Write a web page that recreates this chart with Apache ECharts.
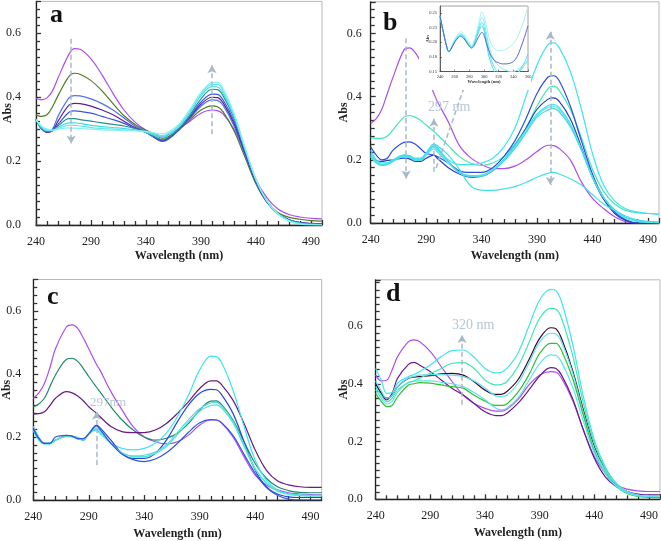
<!DOCTYPE html>
<html><head><meta charset="utf-8">
<script src="https://cdn.jsdelivr.net/npm/echarts/dist/echarts.min.js"></script>
<style>html,body{margin:0;padding:0;background:#fff}#c{width:661px;height:541px}</style>
</head><body><div id="c"></div>
<script>
// ---------- data ----------
const WL  = [240,245,250,255,260,270,275,280,290,300,310,320,330,340,350,355,360,370,380,390,400,405,410,420,430,440,450,460,470,480,490,500];
const WL2 = [240,245,250,255,260,270,275,280,285,290,297,300,310,320,330,340,350,360,370,380,390,400,405,410,420,430,440,450,460,470,480,490,500];
const WLin = [240,245,250,252,255,260,265,268,272,276,280,283,286,290,294,297,300,303,306,310,315,320,325,330,335,340,345,350,355,360];

// panel a
const a1 = [.396,.392,.398,.42,.46,.535,.552,.55,.52,.47,.412,.36,.322,.297,.282,.278,.282,.302,.325,.35,.36,.358,.348,.30,.225,.142,.085,.05,.033,.025,.021,.019];
const a2 = [.344,.34,.345,.37,.405,.465,.475,.472,.452,.42,.38,.342,.315,.296,.278,.272,.276,.298,.33,.36,.373,.37,.355,.295,.212,.128,.07,.038,.024,.018,.014,.012];
const a3 = [.33,.305,.29,.30,.34,.398,.405,.404,.395,.38,.36,.335,.31,.292,.272,.266,.272,.298,.335,.372,.392,.39,.375,.31,.22,.132,.072,.035,.015,.007,.004,.003];
const a4 = [.33,.303,.29,.295,.325,.375,.381,.38,.372,.36,.345,.325,.305,.29,.27,.263,.27,.298,.338,.378,.40,.399,.383,.318,.225,.135,.073,.036,.016,.008,.005,.004];
const a5 = [.33,.30,.292,.295,.315,.353,.357,.356,.35,.34,.33,.318,.302,.29,.268,.262,.268,.298,.34,.385,.41,.409,.392,.325,.23,.137,.074,.036,.016,.007,.004,.003];
const a6 = [.33,.302,.293,.295,.31,.333,.333,.33,.325,.32,.315,.31,.302,.29,.272,.268,.273,.302,.345,.395,.425,.424,.405,.335,.235,.14,.075,.037,.016,.007,.004,.003];
const a7 = [.33,.305,.295,.295,.305,.32,.32,.318,.312,.308,.305,.302,.298,.29,.278,.274,.28,.308,.352,.405,.433,.432,.412,.34,.238,.14,.074,.035,.014,.005,.002,.001];
const a8 = [.33,.308,.298,.296,.302,.312,.312,.31,.305,.302,.30,.298,.296,.292,.282,.279,.285,.312,.357,.41,.44,.44,.42,.345,.24,.142,.075,.035,.013,.004,.001,0];
const a9 = [.33,.31,.30,.297,.30,.304,.303,.302,.30,.298,.297,.296,.295,.293,.287,.285,.29,.316,.362,.415,.446,.447,.428,.35,.243,.143,.075,.034,.012,.003,0,0];

// panel b
const b1 = [.315,.33,.36,.41,.46,.548,.554,.54,.51,.47,.41,.385,.32,.245,.207,.185,.172,.172,.18,.2,.226,.246,.245,.236,.2,.13,.078,.046,.02,.004,0,0,0];
const b2 = [.27,.268,.268,.275,.295,.335,.34,.335,.325,.31,.29,.28,.245,.21,.19,.182,.19,.21,.25,.3,.37,.425,.433,.42,.36,.27,.17,.1,.06,.04,.033,.03,.028];
const b3 = [.24,.215,.2,.205,.23,.255,.257,.25,.235,.22,.215,.21,.19,.165,.16,.16,.175,.21,.26,.33,.41,.462,.466,.45,.37,.26,.155,.08,.035,.01,0,0,0];
const b4 = [.21,.198,.195,.198,.2,.205,.203,.195,.195,.205,.215,.205,.175,.155,.145,.148,.165,.2,.245,.3,.36,.392,.396,.385,.33,.24,.145,.075,.03,.008,0,0,0];
const b5 = [.22,.195,.185,.187,.195,.21,.208,.2,.198,.215,.235,.225,.19,.16,.15,.152,.17,.2,.245,.295,.345,.372,.375,.365,.315,.235,.145,.08,.04,.015,.005,.002,0];
const b6 = [.215,.192,.183,.185,.195,.212,.21,.2,.2,.218,.24,.23,.19,.158,.148,.15,.168,.198,.24,.29,.34,.366,.368,.36,.31,.232,.145,.08,.04,.016,.006,.003,.001];
const b7 = [.21,.19,.182,.185,.197,.215,.213,.203,.203,.22,.245,.235,.195,.16,.148,.148,.165,.195,.235,.285,.335,.358,.362,.352,.305,.23,.145,.082,.042,.018,.008,.004,.002];
const b8 = [.21,.19,.185,.188,.2,.215,.213,.205,.205,.22,.25,.24,.2,.185,.185,.19,.205,.24,.3,.4,.5,.565,.57,.555,.48,.36,.22,.12,.07,.045,.035,.03,.028];
const b9 = [.23,.2,.19,.19,.2,.21,.208,.2,.2,.22,.25,.245,.215,.17,.118,.104,.103,.108,.115,.128,.145,.158,.16,.155,.14,.12,.09,.06,.04,.022,.01,.005,.003];

// inset of b
const inBlue = [.245,.215,.188,.184,.188,.2,.208,.21,.207,.2,.193,.19,.193,.203,.212,.217,.212,.2,.188,.176,.168,.165,.163,.163,.164,.167,.175,.19,.208,.228];
const inTop  = [.245,.215,.188,.184,.19,.205,.215,.218,.215,.207,.198,.195,.2,.218,.24,.252,.245,.23,.212,.196,.188,.186,.186,.188,.192,.198,.207,.222,.24,.262];
const inC2   = [.245,.215,.188,.184,.19,.203,.212,.215,.212,.204,.196,.193,.198,.213,.232,.243,.236,.218,.198,.18,.167,.16,.155,.152,.15,.15,.152,.157,.163,.17];
const inC3   = [.245,.215,.188,.184,.189,.202,.21,.213,.21,.202,.195,.192,.196,.21,.226,.234,.227,.208,.19,.17,.155,.147,.142,.14,.14,.142,.146,.152,.16,.168];
const inC4   = [.245,.215,.188,.184,.189,.201,.209,.212,.209,.201,.194,.191,.195,.208,.222,.228,.22,.2,.18,.162,.148,.14,.136,.135,.137,.141,.146,.155,.165,.18];
const insetYLabels = ['0.15','0.18','0.20','0.23','0.25'];

// panel c
const c1 = [.323,.34,.37,.42,.48,.55,.556,.545,.515,.48,.43,.413,.344,.286,.233,.2,.185,.178,.185,.206,.238,.254,.254,.243,.2,.137,.079,.048,.032,.023,.019,.017,.016];
const c2 = [.296,.305,.323,.36,.397,.447,.45,.44,.418,.392,.358,.344,.296,.254,.222,.2,.19,.196,.212,.243,.286,.314,.315,.302,.254,.185,.116,.069,.042,.03,.024,.023,.023];
const c3 = [.273,.274,.28,.3,.323,.344,.34,.33,.315,.296,.275,.265,.233,.217,.214,.214,.222,.243,.275,.312,.354,.378,.378,.365,.317,.243,.159,.095,.061,.048,.042,.04,.04];
const c4 = [.233,.2,.18,.18,.19,.204,.203,.199,.19,.212,.222,.212,.18,.164,.159,.164,.18,.212,.265,.333,.413,.457,.455,.434,.349,.233,.127,.063,.032,.019,.015,.013,.013];
const c5 = [.228,.195,.18,.18,.19,.203,.202,.195,.19,.21,.237,.23,.19,.148,.132,.132,.148,.19,.249,.302,.339,.351,.35,.333,.275,.185,.095,.042,.019,.01,.008,.008,.008];
const c6 = [.222,.192,.178,.178,.19,.203,.202,.195,.19,.21,.228,.22,.18,.15,.14,.142,.152,.175,.215,.255,.29,.308,.31,.298,.25,.175,.1,.055,.03,.02,.016,.015,.015];
const c7 = [.22,.19,.178,.178,.19,.202,.2,.194,.19,.208,.225,.218,.178,.148,.138,.138,.148,.17,.208,.248,.282,.3,.302,.292,.245,.17,.098,.053,.028,.018,.014,.013,.013];
const c8 = [.225,.195,.18,.18,.2,.205,.203,.195,.195,.21,.235,.225,.18,.145,.128,.122,.13,.15,.18,.215,.245,.255,.254,.245,.205,.145,.085,.04,.015,.003,0,0,0];

// panel d
const d1 = [.43,.41,.412,.448,.494,.546,.552,.546,.511,.459,.407,.361,.332,.315,.305,.305,.312,.345,.395,.43,.442,.44,.419,.344,.24,.148,.09,.05,.035,.029,.027,.027];
const d2 = [.40,.367,.344,.367,.419,.467,.474,.465,.442,.413,.384,.361,.332,.303,.29,.29,.298,.332,.378,.427,.456,.453,.43,.35,.24,.142,.078,.044,.027,.018,.015,.015];
const d3 = [.40,.37,.35,.36,.39,.419,.423,.425,.428,.434,.436,.43,.407,.378,.363,.363,.373,.413,.482,.557,.594,.59,.557,.448,.309,.182,.102,.05,.027,.015,.012,.009];
const d4 = [.453,.413,.367,.37,.402,.425,.432,.442,.465,.494,.515,.517,.492,.453,.438,.44,.453,.505,.598,.69,.727,.722,.684,.54,.355,.205,.113,.055,.027,.015,.012,.012];
const d5 = [.39,.36,.338,.35,.378,.404,.41,.419,.436,.453,.471,.473,.453,.413,.396,.398,.407,.459,.54,.627,.661,.658,.627,.5,.332,.194,.107,.055,.024,.013,.01,.008];
const d6 = [.41,.375,.35,.36,.39,.42,.425,.43,.432,.432,.43,.425,.41,.385,.358,.356,.36,.4,.47,.545,.575,.572,.545,.44,.3,.175,.1,.05,.025,.015,.012,.01];
const d7 = [.367,.34,.321,.325,.355,.396,.4,.404,.402,.396,.39,.385,.36,.34,.325,.325,.33,.37,.43,.505,.54,.54,.515,.42,.29,.165,.09,.045,.02,.01,.007,.006];
const d8 = [.38,.35,.33,.34,.37,.405,.408,.41,.41,.405,.4,.39,.37,.345,.315,.31,.315,.35,.41,.47,.5,.498,.475,.39,.27,.16,.09,.045,.022,.012,.01,.009];

// arrows: [x1, y1, x2, y2, startSymbol, endSymbol]
const arrowsA = [[272,0.583,272,0.255,'none','arrow'],[400,0.50,400,0.281,'arrow','none']];
const arrowsB = [[272,0.585,272,0.141,'none','arrow'],[402,0.605,402,0.12,'arrow','arrow'],[297,0.162,297,0.33,'none','arrow'],[299,0.174,335,0.538,'none','arrow']];
const arrowsC = [[297,0.111,297,0.28,'none','arrow']];
const arrowsD = [[319,0.327,319,0.569,'none','arrow']];
const arrowsIn = [[297,0.15,297,0.262,'none','none']];

// ---------- chart ----------
const FONT = 'Liberation Serif';
const ARROW = '#a9b8c8';
const PURPLE = '#ad4ef2';
const TICK = '#333';
const panels = [
  {grid:{left:36,top:1.4,width:286,height:223.6}, ymax:0.7, labMargin:15, nameGapY:22, nameGapX:25, wl:WL,
   curves:[[a1,PURPLE],[a2,'#4e7d23'],[a3,'#4f72ea'],[a4,'#5a1f9e'],[a5,'#3b56dc'],[a6,'#2a8f8a'],[a7,'#3fdde6'],[a8,'#5fe8ee'],[a9,'#86f0f2']], arrows:arrowsA},
  {grid:{left:370.7,top:1.8,width:288.3,height:221.2}, ymax:0.7, labMargin:9, nameGapY:21, nameGapX:27, wl:WL2,
   curves:[[b1,PURPLE],[b2,'#3ee8b4'],[b3,'#2f4fe0'],[b4,'#2a40c0'],[b5,'#3fe0e8'],[b6,'#5ce8ee'],[b7,'#46d8e2'],[b8,'#40e4ec'],[b9,'#44e0ea']], arrows:arrowsB},
  {grid:{left:33.3,top:279.5,width:288.4,height:220.5}, ymax:0.7, labMargin:12, nameGapY:20, nameGapX:28, wl:WL2,
   curves:[[c1,PURPLE],[c2,'#1f8a68'],[c3,'#6a1a82'],[c4,'#40e4ec'],[c5,'#2346e0'],[c6,'#5ad8e8'],[c7,'#50e8c8'],[c8,'#3654d8']], arrows:arrowsC},
  {grid:{left:375.7,top:279.8,width:284.3,height:219.5}, ymax:0.76, labMargin:13, nameGapY:26, nameGapX:28, wl:WL,
   curves:[[d1,PURPLE],[d2,'#6a1a8a'],[d3,'#3a0a30'],[d4,'#40e4ec'],[d5,'#40e8b0'],[d6,'#5ee0ec'],[d7,'#30c030'],[d8,'#60e0f0']], arrows:arrowsD}
];

const grids = [], xAxes = [], yAxes = [], series = [];
function arrowSeries(idx, list, z, width) {
  return {type:'line', xAxisIndex:idx, yAxisIndex:idx, data:[], z:z, silent:true, animation:false,
    markLine:{silent:true, animation:false, symbolSize:[7,8], label:{show:false},
      lineStyle:{type:[5,3], color:ARROW, width:width},
      data:list.map(r => [{coord:[r[0],r[1]], symbol:r[4]},{coord:[r[2],r[3]], symbol:r[5]}])}};
}
panels.forEach((p, i) => {
  grids.push(Object.assign({show:true, borderColor:'#b8b8b8', borderWidth:1}, p.grid));
  xAxes.push({type:'value', gridIndex:i, min:240, max:500, interval:50,
    axisLine:{show:true, lineStyle:{color:'#222', width:1.3}},
    axisTick:{show:true, inside:true, length:5, lineStyle:{color:TICK, width:1.3}},
    minorTick:{show:true, splitNumber:5, length:4, lineStyle:{color:TICK, width:1.3}},
    splitLine:{show:false},
    axisLabel:{margin:11, fontFamily:FONT, fontSize:12, color:'#222', showMaxLabel:false},
    name:'Wavelength (nm)', nameLocation:'middle', nameGap:p.nameGapX, nameMoveOverlap:false,
    nameTextStyle:{fontFamily:FONT, fontWeight:'bold', fontSize:12, color:'#222'}});
  yAxes.push({type:'value', gridIndex:i, min:0, max:p.ymax, interval:0.2,
    axisLine:{show:true, lineStyle:{color:'#222', width:1.3}},
    axisTick:{show:true, inside:true, length:5, lineStyle:{color:TICK, width:1.3}},
    minorTick:{show:true, splitNumber:8, length:4, lineStyle:{color:TICK, width:1.3}},
    splitLine:{show:false},
    axisLabel:{margin:p.labMargin, fontFamily:FONT, fontSize:12, color:'#222', showMaxLabel:false, formatter:v => v.toFixed(1)},
    name:'Abs', nameLocation:'middle', nameGap:p.nameGapY, nameRotate:90, nameMoveOverlap:false,
    nameTextStyle:{fontFamily:FONT, fontWeight:'bold', fontSize:12, color:'#222'}});
  p.curves.forEach(([vals, col]) => {
    series.push({type:'line', xAxisIndex:i, yAxisIndex:i, data:p.wl.map((x,j)=>[x, vals[j]]),
      showSymbol:false, smooth:0.35, animation:false, silent:true, z:2,
      lineStyle:{width:1.2, color:col}, itemStyle:{color:col}});
  });
});

// inset (index 4)
grids.push({show:true, left:440, top:6, width:88, height:65.5, borderColor:'#888', borderWidth:0.8, backgroundColor:'#fff', z:55});
xAxes.push({type:'value', gridIndex:4, min:240, max:360, interval:20, z:60,
  axisLine:{show:true, lineStyle:{color:'#444', width:0.8}},
  axisTick:{show:true, inside:true, length:2, lineStyle:{color:'#444', width:0.6}},
  splitLine:{show:false},
  axisLabel:{margin:3, fontFamily:FONT, fontSize:4.5, color:'#333'},
  name:'Wavelength (nm)', nameLocation:'middle', nameGap:8, nameMoveOverlap:false,
  nameTextStyle:{fontFamily:FONT, fontWeight:'bold', fontSize:4.5, color:'#333'}});
yAxes.push({type:'value', gridIndex:4, min:0.15, max:0.262, interval:0.025, z:60,
  axisLine:{show:true, lineStyle:{color:'#444', width:0.8}},
  axisTick:{show:true, inside:true, length:2, lineStyle:{color:'#444', width:0.6}},
  splitLine:{show:false},
  axisLabel:{margin:3, fontFamily:FONT, fontSize:4.5, color:'#333', showMaxLabel:false,
    formatter:v => insetYLabels[Math.round((v-0.15)/0.025)] || ''},
  name:'Abs', nameLocation:'middle', nameGap:10, nameRotate:90, nameMoveOverlap:false,
  nameTextStyle:{fontFamily:FONT, fontWeight:'bold', fontSize:4.5, color:'#333'}});
[[inTop,'#a8f2f4'],[inC2,'#7eecf0'],[inC3,'#5ee4ec'],[inC4,'#48dce8'],[inBlue,'#5a66d8']].forEach(([vals,col]) => {
  series.push({type:'line', xAxisIndex:4, yAxisIndex:4, data:WLin.map((x,j)=>[x, vals[j]]),
    showSymbol:false, smooth:0.35, animation:false, silent:true, z:70,
    lineStyle:{width:1, color:col}, itemStyle:{color:col}});
});
series.push({type:'line', xAxisIndex:4, yAxisIndex:4, data:[], z:72, silent:true, animation:false,
  markLine:{silent:true, animation:false, symbol:['none','none'], label:{show:false},
    lineStyle:{type:[1.5,1.5], color:'#777', width:0.8},
    data:arrowsIn.map(r => [{coord:[r[0],r[1]]},{coord:[r[2],r[3]]}])}});

panels.forEach((p,i) => series.push(arrowSeries(i, p.arrows, 80, 1.5)));

const letter = (t, x, y) => ({type:'text', left:x, top:y, z:90, silent:true,
  style:{text:t, font:'bold 26px "Liberation Serif"', fill:'#111'}});
const note = (t, x, y, size) => ({type:'text', left:x, top:y, z:90, silent:true,
  style:{text:t, font:size+'px "Liberation Serif"', fill:'#b6c6d6'}});

const option = {
  animation:false, backgroundColor:'#fff',
  grid:grids, xAxis:xAxes, yAxis:yAxes, series:series,
  graphic:[
    {type:'rect', z:50, silent:true, shape:{x:419, y:3, width:112, height:87}, style:{fill:'#fff'}},
    letter('a', 50, 2), letter('b', 383, 10), letter('c', 47, 284), letter('d', 386, 281),
    note('297 nm', 428, 100, 14), note('297nm', 90, 396, 13), note('320 nm', 452, 318, 14)
  ]
};
const chart = echarts.init(document.getElementById('c'), null, {renderer:'canvas'});
chart.setOption(option);
</script></body></html>
